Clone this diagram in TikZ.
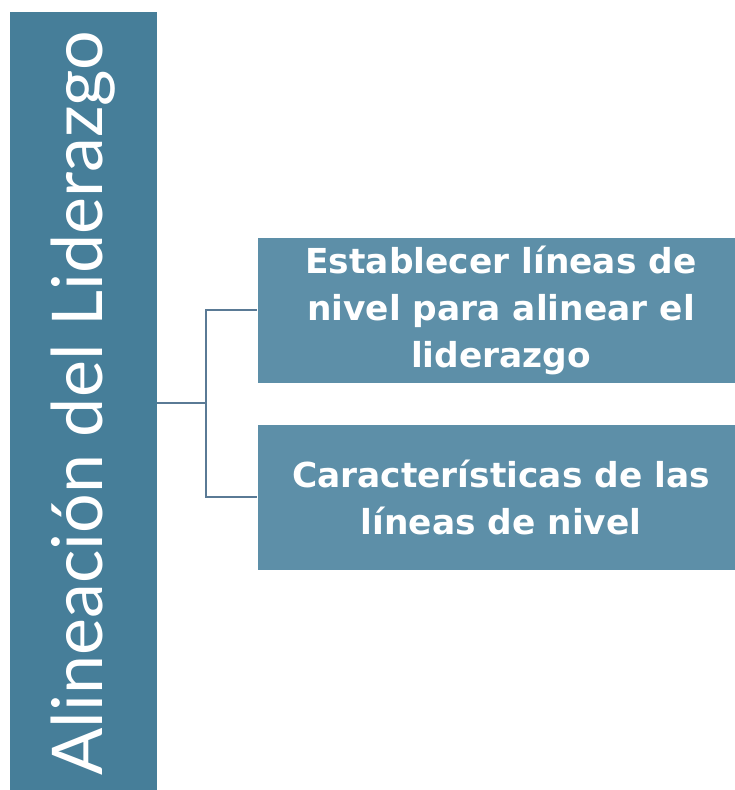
\documentclass[tikz,border=0pt]{standalone}
\usepackage{fontspec}
\setmainfont{DejaVu Sans}
\newfontfamily\lightfont{Lato}
\newfontfamily\boldfont{DejaVu Sans Bold}
\definecolor{leftblue}{RGB}{70,126,153}
\definecolor{rightblue}{RGB}{93,143,168}
\definecolor{linkblue}{RGB}{90,122,149}
\newcommand{\ind}{\hspace*{10pt}}
\begin{document}
\begin{tikzpicture}[x=1pt,y=-1pt,
  mainbox/.style={fill=leftblue, draw=white, line width=0.8pt, rotate=90,
    minimum width=784pt, minimum height=148pt, inner sep=0pt, text=white,
    font=\lightfont\fontsize{70}{70}\selectfont},
  subbox/.style={fill=rightblue, draw=white, line width=0.8pt,
    minimum width=478pt, minimum height=146pt, inner sep=0pt, text=white,
    align=center, font=\boldfont\fontsize{34.4}{47}\selectfont},
  link/.style={draw=linkblue, line width=2.4pt}]
\useasboundingbox (0,0) rectangle (735,790);
\node[mainbox] (L) at (83,403) {Alineación del Liderazgo};
\node[subbox] (R1) at (496,310) {\ind Establecer líneas de\\\ind nivel para alinear el\\\ind liderazgo};
\node[subbox] (R2) at (496,497) {\ind Características de las\\\ind líneas de nivel};
\coordinate (J) at (206,403);
\draw[link] (L.south) -- (J);
\draw[link] (J) |- (R1.west);
\draw[link] (J) |- (R2.west);
\end{tikzpicture}
\end{document}
